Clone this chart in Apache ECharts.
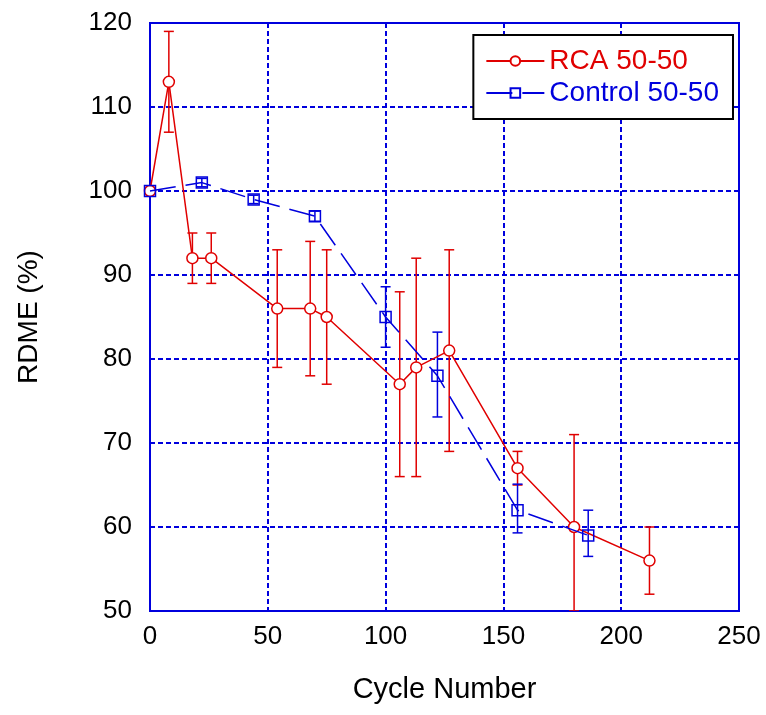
<!DOCTYPE html>
<html>
<head>
<meta charset="utf-8">
<script src="https://cdn.jsdelivr.net/npm/echarts@6/dist/echarts.min.js"></script>
<style>html,body{margin:0;padding:0;background:#fff}#c{width:766px;height:715px}</style>
</head>
<body>
<div id="c"></div>
<script>
// RCA 50-50
var rcaX  = [0, 8, 18, 26, 54, 68, 75, 106, 113, 127, 156, 180, 212];
var rcaY  = [100, 113, 92, 92, 86, 86, 85, 77, 79, 81, 67, 60, 56];
var rcaHi = [100, 119, 95, 95, 93, 94, 93, 88, 92, 93, 69, 71, 60];
var rcaLo = [100, 107, 89, 89, 79, 78, 77, 66, 66, 69, 65, 50, 52];
// Control 50-50
var ctlX  = [0, 22, 44, 70, 100, 122, 156, 186];
var ctlY  = [100, 101, 99, 97, 85, 78, 62, 59];
var ctlHi = [100, 101.5, 99.5, 97.6, 88.6, 83.2, 65.1, 62];
var ctlLo = [100, 100.5, 98.5, 96.4, 81.4, 73.1, 59.3, 56.5];
var xTicks = [0, 50, 100, 150, 200, 250];
var yTicks = [50, 60, 70, 80, 90, 100, 110, 120];

var RED = '#e00000', BLUE = '#0000dd';
var FONT = 'Liberation Sans, Arial, sans-serif';

function pts(xs, ys) { return xs.map(function (x, i) { return [x, ys[i]]; }); }
function errs(xs, lo, hi) { return xs.map(function (x, i) { return [x, lo[i], hi[i]]; }); }

function errSeries(name, data, color) {
  return {
    type: 'custom', name: name, data: data, z: 1, clip: true,
    encode: { x: 0, y: [1, 2] },
    renderItem: function (params, api) {
      var x = api.value(0), lo = api.value(1), hi = api.value(2);
      if (lo === hi) return null;
      var p1 = api.coord([x, lo]), p2 = api.coord([x, hi]);
      var w = 5;
      var st = { stroke: color, lineWidth: 1.5 };
      return {
        type: 'group', children: [
          { type: 'line', shape: { x1: p1[0], y1: p1[1], x2: p2[0], y2: p2[1] }, style: st },
          { type: 'line', shape: { x1: p1[0] - w, y1: p1[1], x2: p1[0] + w, y2: p1[1] }, style: st },
          { type: 'line', shape: { x1: p2[0] - w, y1: p2[1], x2: p2[0] + w, y2: p2[1] }, style: st }
        ]
      };
    }
  };
}

var chart = echarts.init(document.getElementById('c'));
chart.setOption({
  animation: false,
  backgroundColor: '#fff',
  grid: { left: 150, right: 27, top: 23, bottom: 104, show: true, borderColor: BLUE, borderWidth: 2, backgroundColor: 'transparent' },
  legend: {
    right: 33, top: 35, orient: 'vertical',
    backgroundColor: '#fff', borderColor: '#000', borderWidth: 2,
    padding: [10, 14, 10, 12], itemGap: 0, itemWidth: 58, itemHeight: 12,
    textStyle: { fontFamily: FONT, fontSize: 28, lineHeight: 32 },
    data: [
      { name: 'RCA 50-50', textStyle: { color: RED } },
      { name: 'Control 50-50', textStyle: { color: BLUE } }
    ]
  },
  xAxis: {
    type: 'value', min: 0, max: 250, interval: 50,
    name: 'Cycle Number', nameLocation: 'middle', nameGap: 64,
    nameTextStyle: { fontFamily: FONT, fontSize: 29, color: '#000' },
    axisLine: { show: false }, axisTick: { show: false },
    axisLabel: { fontFamily: FONT, fontSize: 26, color: '#000', margin: 13 },
    splitLine: { show: true, lineStyle: { color: BLUE, width: 2, type: [5, 3] } }
  },
  yAxis: {
    type: 'value', min: 50, max: 120, interval: 10,
    name: 'RDME (%)', nameLocation: 'middle', nameGap: 107, nameRotate: 90,
    nameTextStyle: { fontFamily: FONT, fontSize: 28, color: '#000' },
    axisLine: { show: false }, axisTick: { show: false },
    axisLabel: { fontFamily: FONT, fontSize: 26, color: '#000', margin: 18 },
    splitLine: { show: true, lineStyle: { color: BLUE, width: 2, type: [5, 3] } }
  },
  series: [
    {
      type: 'line', name: 'RCA 50-50', data: pts(rcaX, rcaY), z: 3,
      symbol: 'circle', symbolSize: 11, showAllSymbol: true,
      lineStyle: { color: RED, width: 1.5 },
      itemStyle: { color: '#fff', borderColor: RED, borderWidth: 1.5 }
    },
    {
      type: 'line', name: 'Control 50-50', data: pts(ctlX, ctlY), z: 4,
      symbol: 'rect', symbolSize: 11, showAllSymbol: true,
      lineStyle: { color: BLUE, width: 1.5, type: [26, 10] },
      itemStyle: { color: 'rgba(255,255,255,0)', borderColor: BLUE, borderWidth: 1.5 }
    },
    errSeries('RCA 50-50', errs(rcaX, rcaLo, rcaHi), RED),
    errSeries('Control 50-50', errs(ctlX, ctlLo, ctlHi), BLUE)
  ]
});
</script>
</body>
</html>
